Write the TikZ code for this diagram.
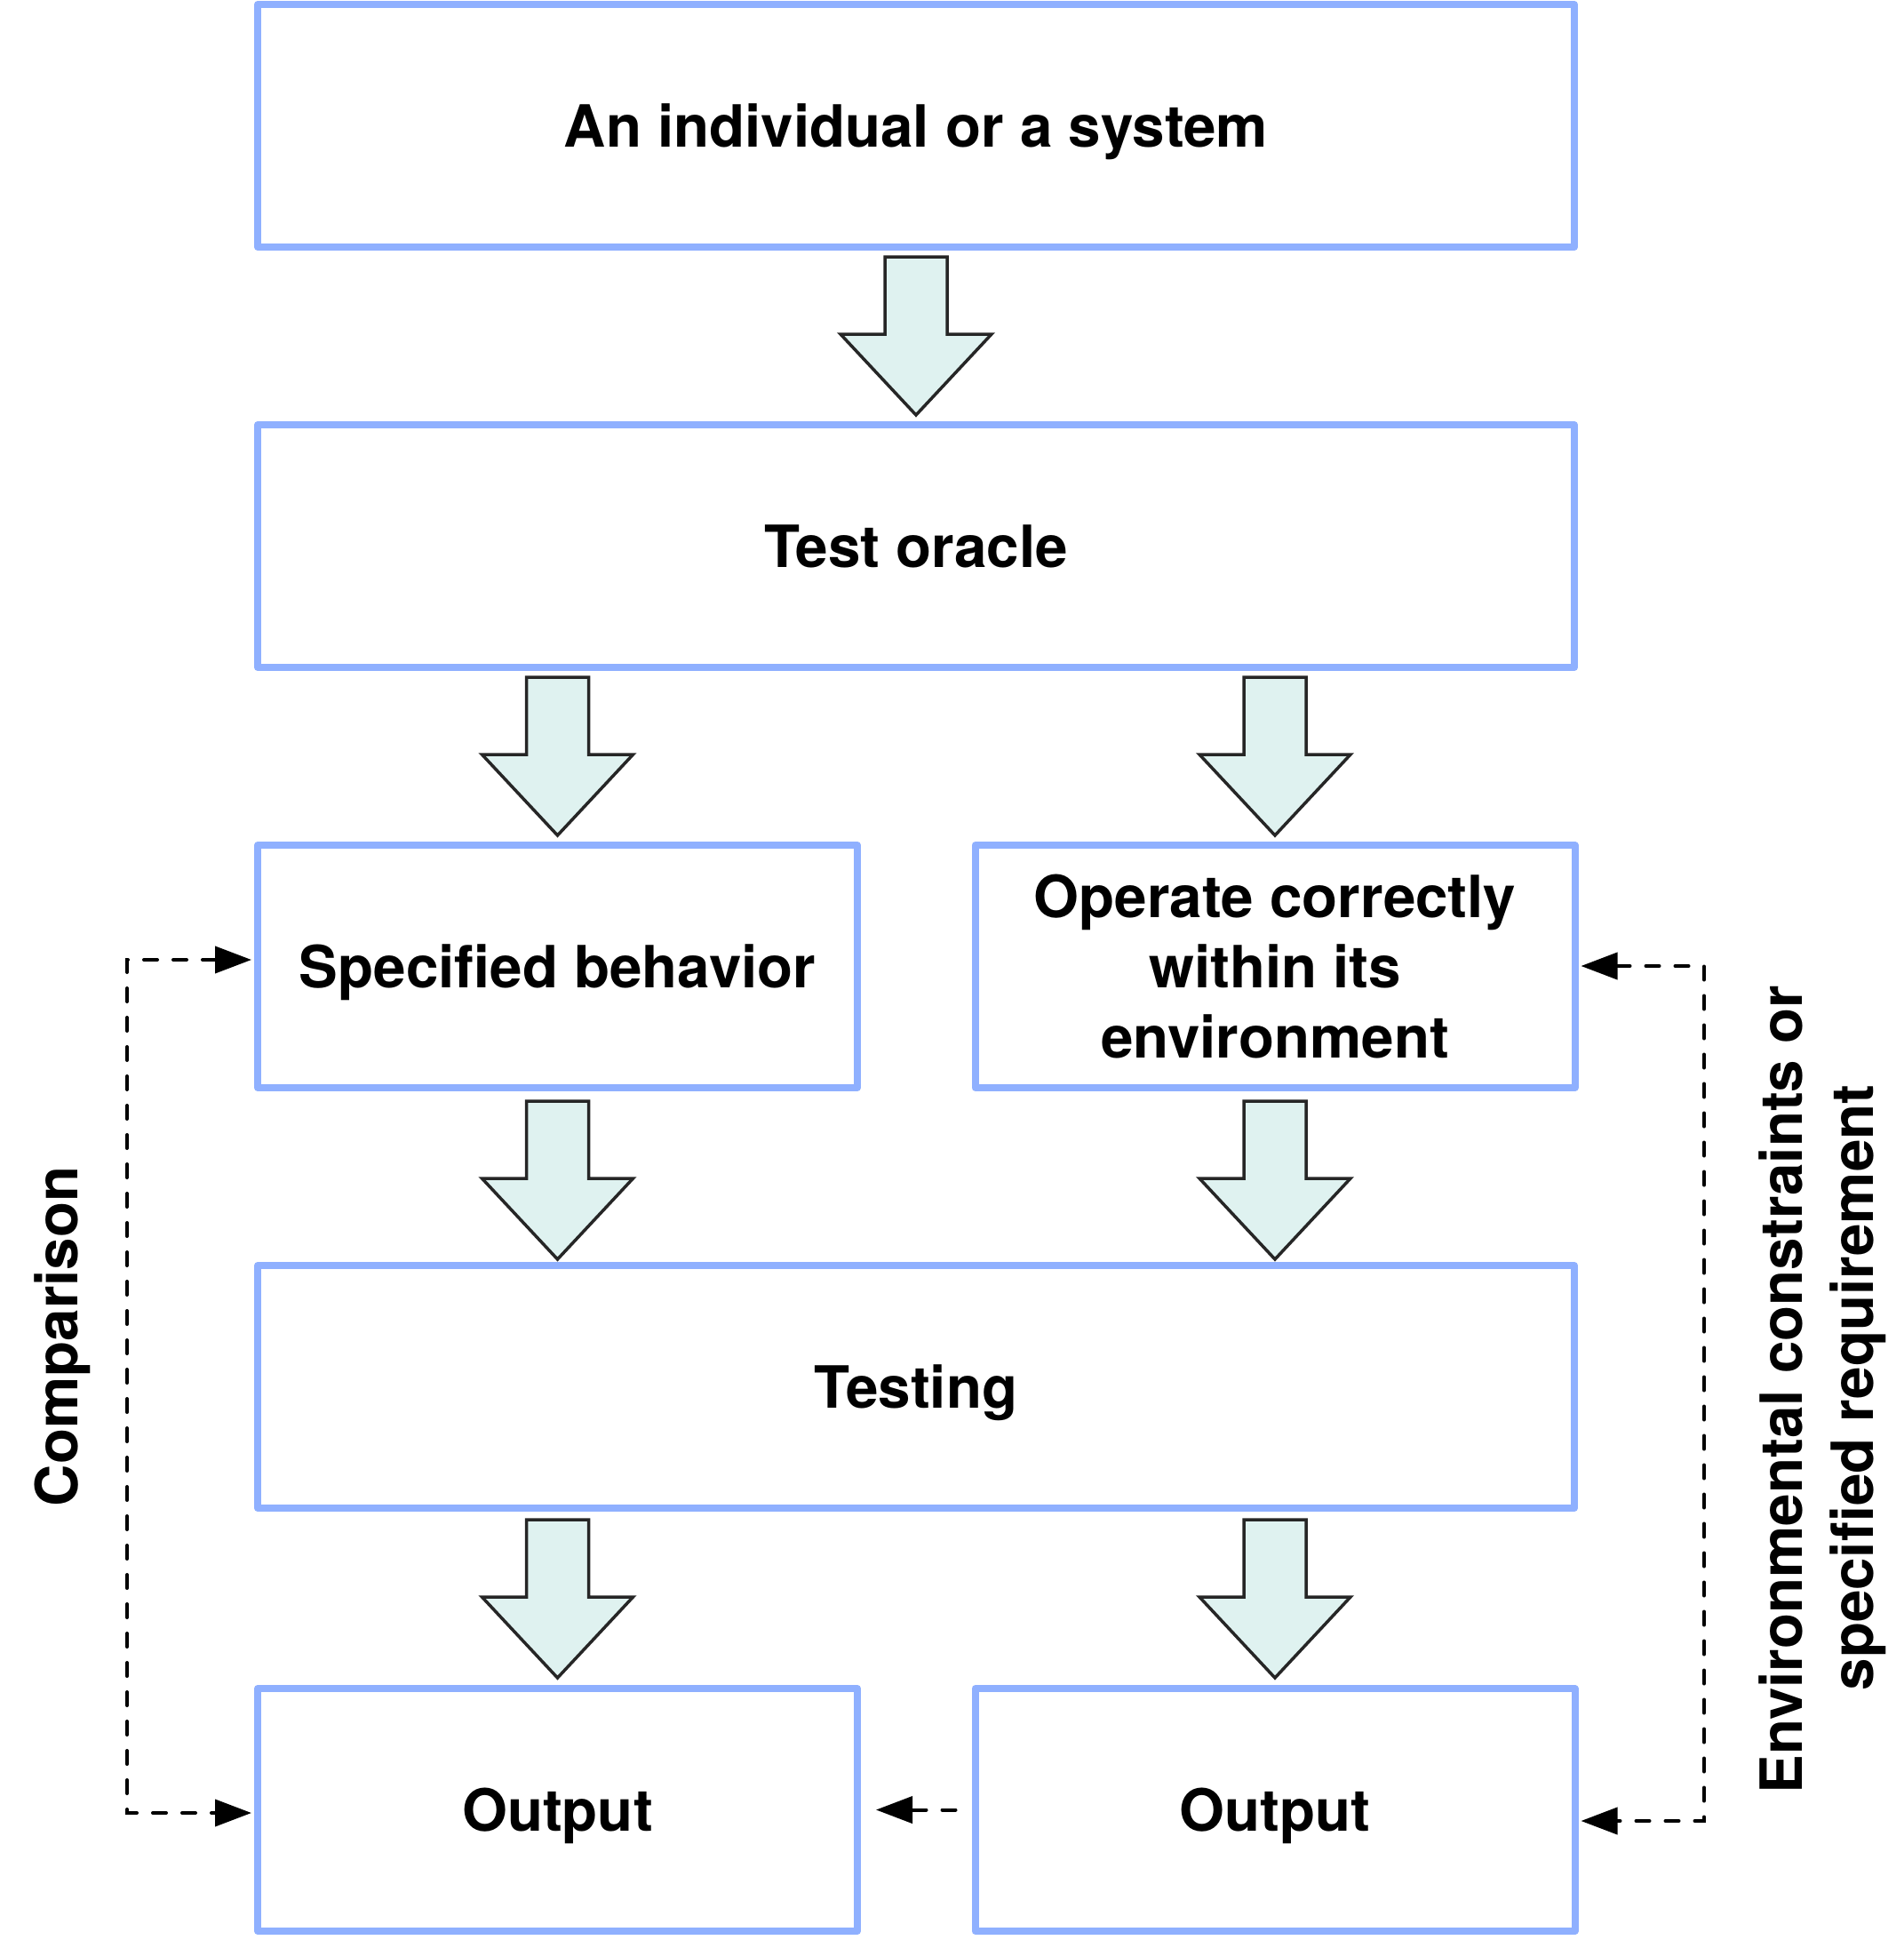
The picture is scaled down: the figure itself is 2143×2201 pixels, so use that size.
\documentclass[tikz,border=0pt]{standalone}
\usepackage{fontspec}
\setmainfont{TeX Gyre Heros}
\usetikzlibrary{arrows.meta,calc}
\definecolor{boxblue}{RGB}{143,176,255}
\definecolor{arrfill}{RGB}{223,242,240}
\definecolor{arrline}{RGB}{38,38,38}
\tikzset{ctip/.tip={Triangle[length=41pt,width=30pt]}}
\begin{document}
\begin{tikzpicture}[x=1pt,y=-1pt,
  box/.style={draw=boxblue, line width=8pt, line join=round, fill=white,
    minimum height=273pt, inner sep=0pt, outer sep=0pt, align=center,
    font=\fontsize{65.5}{79}\selectfont\bfseries},
  oneline/.style={text depth=0pt},
  widebox/.style={box, minimum width=1482pt},
  halfbox/.style={box, minimum width=675pt},
  lbl/.style={inner sep=0pt, rotate=90, anchor=base,
    font=\fontsize{65.5}{79}\selectfont\bfseries},
  arrowbody/.style={draw=arrline, fill=arrfill, line width=3.5pt, line join=miter},
  downarr/.pic={\path[arrowbody] (-35,0) -- (35,0) -- (35,87) -- (85,87) -- (0,178) -- (-85,87) -- (-35,87) -- cycle;},
  dashconn/.style={draw=black, line width=4pt, line cap=round, dash pattern=on 15pt off 18pt}
]
\useasboundingbox (0,0) rectangle (2143,2201);

% boxes
\node[widebox, oneline] (top) at (1031,141.5) {An individual or a system};
\node[widebox, oneline] (oracle) at (1031,614.5) {Test oracle};
\node[halfbox, oneline] (spec) at (627.5,1087.5) {Specified behavior};
\node[halfbox] (op) at (1435,1087.5) {Operate correctly\\within its\\environment};
\node[widebox, oneline] (testing) at (1031,1560.5) {Testing};
\node[halfbox, oneline] (out1) at (627.5,2036.5) {Output};
\node[halfbox, oneline] (out2) at (1435,2036.5) {Output};

% block arrows
\pic at (1031,289) {downarr};
\pic at (627.5,762) {downarr};
\pic at (1435,762) {downarr};
\pic at (627.5,1239) {downarr};
\pic at (1435,1239) {downarr};
\pic at (627.5,1710) {downarr};
\pic at (1435,1710) {downarr};

% side labels
\node[lbl] (cmp) at (87,1504) {Comparison};
\node[lbl] (envA) at (2028,1563.5) {Environmental constraints or};
\node[lbl] (envB) at (2108,1561.5) {specified requirement};

% dashed connectors
\coordinate (cl1) at (143,1080);
\coordinate (cl2) at (143,2040);
\path (spec.west |- cl1) ++(-7,0) coordinate (sl1);
\path (out1.west |- cl2) ++(-7,0) coordinate (sl2);
\draw[dashconn, ctip-ctip] (sl1) -- (cl1) -- (cl2) -- (sl2);

\coordinate (cr1) at (1918,1087);
\coordinate (cr2) at (1918,2049);
\path (op.east |- cr1) ++(7,0) coordinate (sr1);
\path (out2.east |- cr2) ++(7,0) coordinate (sr2);
\draw[dashconn, ctip-ctip] (sr1) -- (cr1) -- (cr2) -- (sr2);

\path (out2.west) ++(-22,0) coordinate (m1);
\path (out1.east) ++(21,0) coordinate (m2);
\draw[dashconn, -ctip] (m1) -- (m2);
\end{tikzpicture}
\end{document}
